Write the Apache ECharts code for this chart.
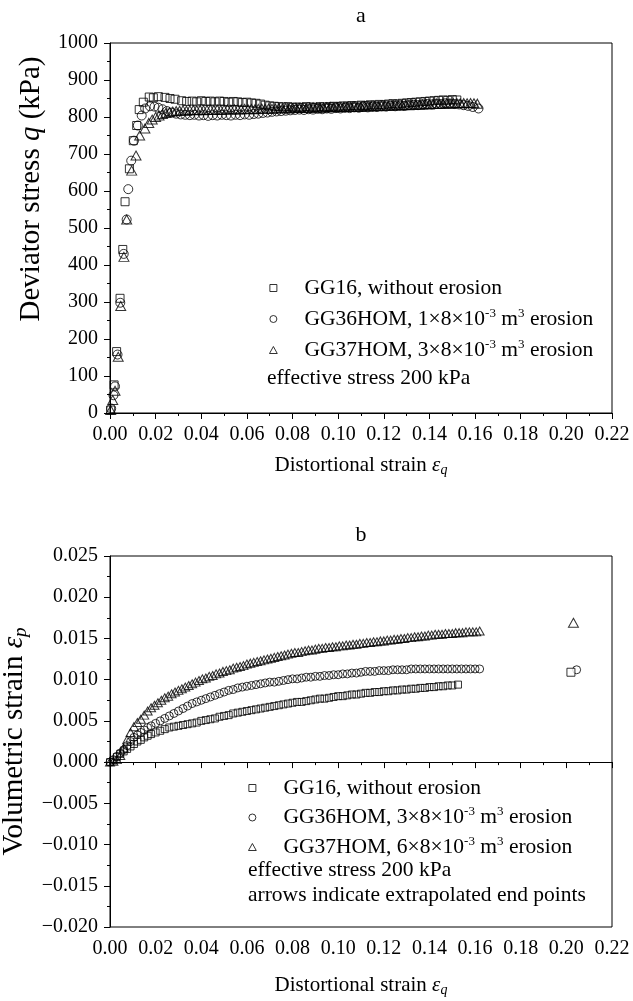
<!DOCTYPE html>
<html>
<head>
<meta charset="utf-8">
<script src="https://cdn.jsdelivr.net/npm/echarts@6/dist/echarts.min.js"></script>
<style>
  html, body { margin: 0; padding: 0; background: #fff; }
  #main { width: 633px; height: 1001px; }
</style>
</head>
<body>
<div id="main"></div>
<script>
// ---- data ----
// panel a: [distortional strain, deviator stress q (kPa)]
const qGG16 = [[0.0003,8],[0.0018,76],[0.0029,166],[0.0044,310],[0.0056,442],[0.0066,571],[0.0085,660],[0.0102,736],[0.0117,777],[0.0128,820],[0.0146,840],[0.0172,854],[0.019,852],[0.0212,855],[0.0241,853],[0.0263,850],[0.0285,848],[0.0314,844],[0.0336,842],[0.036,843],[0.038,841],[0.040,844],[0.042,842],[0.044,843],[0.046,841],[0.048,843],[0.050,842],[0.052,840],[0.054,842],[0.056,841],[0.058,839],[0.060,840],[0.062,838],[0.064,837],[0.066,835],[0.068,832],[0.070,830],[0.072,829],[0.074,828],[0.076,827],[0.078,828],[0.080,826],[0.082,827],[0.084,826],[0.086,828],[0.088,827],[0.090,826],[0.092,828],[0.094,827],[0.096,828],[0.098,829],[0.100,828],[0.102,830],[0.104,829],[0.106,831],[0.108,830],[0.110,832],[0.112,831],[0.114,833],[0.116,832],[0.118,834],[0.120,833],[0.122,835],[0.124,836],[0.126,835],[0.128,837],[0.130,838],[0.132,839],[0.134,840],[0.136,841],[0.138,842],[0.140,843],[0.142,844],[0.144,845],[0.146,846],[0.148,845],[0.150,847],[0.152,846]];
const qGG36 = [[0.0005,12],[0.0015,48],[0.0022,72],[0.0033,158],[0.0045,298],[0.0060,430],[0.0073,523],[0.0080,605],[0.0093,682],[0.0105,736],[0.0122,777],[0.0139,804],[0.0154,823],[0.0175,829],[0.0195,828],[0.0212,825],[0.0230,821],[0.0250,816],[0.0270,812],[0.0290,809],[0.031,807],[0.033,806],[0.035,805],[0.037,806],[0.039,804],[0.041,805],[0.043,803],[0.045,805],[0.047,804],[0.049,806],[0.051,805],[0.053,804],[0.055,806],[0.057,805],[0.059,807],[0.061,806],[0.063,808],[0.065,809],[0.067,811],[0.069,812],[0.071,814],[0.073,815],[0.075,816],[0.077,817],[0.079,818],[0.081,819],[0.083,820],[0.085,819],[0.087,821],[0.089,820],[0.091,822],[0.093,821],[0.095,823],[0.097,822],[0.099,824],[0.101,823],[0.103,825],[0.105,824],[0.107,826],[0.109,825],[0.111,827],[0.113,826],[0.115,828],[0.117,827],[0.119,829],[0.121,828],[0.123,830],[0.125,829],[0.127,831],[0.129,830],[0.131,832],[0.133,833],[0.135,832],[0.137,834],[0.139,835],[0.141,834],[0.143,836],[0.145,835],[0.147,837],[0.149,836],[0.151,835],[0.153,834],[0.155,832],[0.157,830],[0.159,827],[0.1615,823]];
const qGG37 = [[0.0003,8],[0.0012,35],[0.0022,60],[0.0036,152],[0.0047,289],[0.0061,422],[0.0073,523],[0.0095,655],[0.0114,696],[0.0130,750],[0.0153,769],[0.017,784],[0.0185,793],[0.020,800],[0.0215,804],[0.023,808],[0.0245,811],[0.026,813],[0.0275,815],[0.029,816],[0.0305,817],[0.032,818],[0.0335,817],[0.035,818],[0.0365,819],[0.038,818],[0.0395,819],[0.041,818],[0.0425,819],[0.044,820],[0.0455,819],[0.047,820],[0.0485,819],[0.050,820],[0.0515,821],[0.053,820],[0.0545,821],[0.056,820],[0.0575,821],[0.059,822],[0.0605,821],[0.062,822],[0.0635,821],[0.065,822],[0.0665,823],[0.068,822],[0.0695,823],[0.071,822],[0.0725,823],[0.074,824],[0.0755,823],[0.077,824],[0.0785,823],[0.080,824],[0.0815,825],[0.083,824],[0.0845,825],[0.086,824],[0.0875,825],[0.089,826],[0.0905,825],[0.092,826],[0.0935,825],[0.095,826],[0.0965,827],[0.098,826],[0.0995,827],[0.101,826],[0.1025,827],[0.104,828],[0.1055,827],[0.107,828],[0.1085,827],[0.110,828],[0.1115,829],[0.113,828],[0.1145,829],[0.116,830],[0.1175,829],[0.119,830],[0.1205,831],[0.122,830],[0.1235,831],[0.125,832],[0.1265,831],[0.128,832],[0.1295,833],[0.131,832],[0.1325,833],[0.134,834],[0.1355,833],[0.137,834],[0.1385,835],[0.140,834],[0.1415,835],[0.143,836],[0.1445,835],[0.146,836],[0.1475,837],[0.149,836],[0.1505,837],[0.152,838],[0.1535,837],[0.155,838],[0.1565,837],[0.158,838],[0.1595,837],[0.161,836]];

// panel b: [distortional strain, volumetric strain]
const epGG16 = [[0.000,0.0000],[0.0015,0.0002],[0.003,0.0006],[0.0045,0.0010],[0.006,0.0013],[0.0075,0.0016],[0.009,0.0019],[0.0105,0.0022],[0.012,0.0025],[0.0135,0.0027],[0.015,0.0030],[0.0165,0.0032],[0.018,0.0034],[0.020,0.0036],[0.022,0.0038],[0.024,0.0040],[0.026,0.0042],[0.028,0.0043],[0.030,0.0044],[0.032,0.0045],[0.034,0.0046],[0.036,0.0047],[0.038,0.0048],[0.040,0.0050],[0.042,0.0051],[0.044,0.0052],[0.046,0.0053],[0.048,0.0055],[0.050,0.0056],[0.052,0.0057],[0.054,0.0059],[0.056,0.0060],[0.058,0.0061],[0.060,0.0062],[0.062,0.0063],[0.064,0.0064],[0.066,0.0065],[0.068,0.0066],[0.070,0.0067],[0.072,0.0068],[0.074,0.0069],[0.076,0.0070],[0.078,0.0071],[0.080,0.0072],[0.082,0.0073],[0.084,0.0073],[0.086,0.0074],[0.088,0.0075],[0.090,0.0076],[0.092,0.0077],[0.094,0.0077],[0.096,0.0078],[0.098,0.0079],[0.100,0.0080],[0.102,0.0080],[0.104,0.0081],[0.106,0.0082],[0.108,0.0082],[0.110,0.0083],[0.112,0.0084],[0.114,0.0084],[0.116,0.0085],[0.118,0.0085],[0.120,0.0086],[0.122,0.0086],[0.124,0.0087],[0.126,0.0087],[0.128,0.0088],[0.130,0.0088],[0.132,0.0089],[0.134,0.0089],[0.136,0.0090],[0.138,0.0090],[0.140,0.0091],[0.142,0.0091],[0.144,0.0092],[0.146,0.0092],[0.148,0.0093],[0.150,0.0093],[0.1525,0.0094]];
const epGG36 = [[0.000,0.0000],[0.0015,0.0003],[0.003,0.0007],[0.0045,0.0011],[0.006,0.0015],[0.0075,0.0020],[0.009,0.0025],[0.0105,0.0030],[0.012,0.0033],[0.0135,0.0036],[0.015,0.0039],[0.0165,0.0042],[0.018,0.0044],[0.020,0.0047],[0.022,0.0050],[0.024,0.0053],[0.026,0.0056],[0.028,0.0059],[0.030,0.0062],[0.032,0.0065],[0.034,0.0068],[0.036,0.0071],[0.038,0.0073],[0.040,0.0075],[0.042,0.0077],[0.044,0.0079],[0.046,0.0081],[0.048,0.0083],[0.050,0.0085],[0.052,0.0087],[0.054,0.0088],[0.056,0.0090],[0.058,0.0091],[0.060,0.0092],[0.062,0.0093],[0.064,0.0094],[0.066,0.0095],[0.068,0.0096],[0.070,0.0097],[0.072,0.0097],[0.074,0.0098],[0.076,0.0099],[0.078,0.0100],[0.080,0.0101],[0.082,0.0101],[0.084,0.0102],[0.086,0.0103],[0.088,0.0103],[0.090,0.0104],[0.092,0.0104],[0.094,0.0105],[0.096,0.0105],[0.098,0.0106],[0.100,0.0106],[0.102,0.0107],[0.104,0.0107],[0.106,0.0108],[0.108,0.0108],[0.110,0.0109],[0.112,0.0110],[0.114,0.0110],[0.116,0.0110],[0.118,0.0111],[0.120,0.0111],[0.122,0.0111],[0.124,0.0112],[0.126,0.0112],[0.128,0.0112],[0.130,0.0112],[0.132,0.0113],[0.134,0.0113],[0.136,0.0113],[0.138,0.0113],[0.140,0.0113],[0.142,0.0113],[0.144,0.0113],[0.146,0.0113],[0.148,0.0113],[0.150,0.0113],[0.152,0.0113],[0.154,0.0113],[0.156,0.0113],[0.158,0.0113],[0.160,0.0113],[0.162,0.0113]];
const epGG37 = [[0.000,0.0000],[0.0015,0.0001],[0.003,0.0003],[0.0045,0.0008],[0.006,0.0017],[0.0075,0.0027],[0.009,0.0036],[0.0105,0.0043],[0.012,0.0048],[0.0135,0.0052],[0.015,0.0057],[0.0165,0.0062],[0.018,0.0066],[0.0195,0.0069],[0.021,0.0072],[0.0225,0.0075],[0.024,0.0078],[0.0255,0.0080],[0.027,0.0083],[0.0285,0.0085],[0.030,0.0087],[0.0315,0.0089],[0.033,0.0091],[0.0345,0.0093],[0.036,0.0095],[0.0375,0.0097],[0.039,0.0099],[0.0405,0.0101],[0.042,0.0102],[0.0435,0.0104],[0.045,0.0105],[0.0465,0.0107],[0.048,0.0108],[0.0495,0.0110],[0.051,0.0111],[0.0525,0.0112],[0.054,0.0114],[0.0555,0.0115],[0.057,0.0116],[0.0585,0.0117],[0.060,0.0119],[0.0615,0.0120],[0.063,0.0121],[0.0645,0.0122],[0.066,0.0123],[0.0675,0.0124],[0.069,0.0125],[0.0705,0.0126],[0.072,0.0127],[0.0735,0.0128],[0.075,0.0129],[0.0765,0.0130],[0.078,0.0131],[0.0795,0.0132],[0.081,0.0133],[0.0825,0.0133],[0.084,0.0134],[0.0855,0.0135],[0.087,0.0136],[0.0885,0.0136],[0.090,0.0137],[0.0915,0.0138],[0.093,0.0138],[0.0945,0.0139],[0.096,0.0139],[0.0975,0.0140],[0.099,0.0140],[0.1005,0.0141],[0.102,0.0141],[0.1035,0.0142],[0.105,0.0142],[0.1065,0.0143],[0.108,0.0143],[0.1095,0.0144],[0.111,0.0144],[0.1125,0.0145],[0.114,0.0145],[0.1155,0.0146],[0.117,0.0146],[0.1185,0.0147],[0.120,0.0147],[0.1215,0.0148],[0.123,0.0148],[0.1245,0.0149],[0.126,0.0149],[0.1275,0.0150],[0.129,0.0150],[0.1305,0.0151],[0.132,0.0151],[0.1335,0.0152],[0.135,0.0152],[0.1365,0.0153],[0.138,0.0153],[0.1395,0.0154],[0.141,0.0154],[0.1425,0.0155],[0.144,0.0155],[0.1455,0.0155],[0.147,0.0156],[0.1485,0.0156],[0.150,0.0156],[0.1515,0.0157],[0.153,0.0157],[0.1545,0.0157],[0.156,0.0158],[0.1575,0.0158],[0.159,0.0158],[0.1605,0.0158],[0.162,0.0159]];

// extrapolated end points (panel b)
const endGG16 = [[0.2020, 0.0109]];
const endGG36 = [[0.2045, 0.0112]];
const endGG37 = [[0.2031, 0.0169]];

// legend names
const namesA = ['GG16, without erosion', 'GG36HOM, 1×8×10-3 m3 erosion', 'GG37HOM, 3×8×10-3 m3 erosion'];
const namesB = ['GG16, without erosion', 'GG36HOM, 3×8×10-3 m3 erosion', 'GG37HOM, 6×8×10-3 m3 erosion'];
const legendRich = {
  'GG16, without erosion': '{t|GG16, without erosion}',
  'GG36HOM, 1×8×10-3 m3 erosion': '{t|GG36HOM, 1×8×10}{s|-3}{t| m}{s|3}{t| erosion}',
  'GG37HOM, 3×8×10-3 m3 erosion': '{t|GG37HOM, 3×8×10}{s|-3}{t| m}{s|3}{t| erosion}',
  'GG36HOM, 3×8×10-3 m3 erosion': '{t|GG36HOM, 3×8×10}{s|-3}{t| m}{s|3}{t| erosion}',
  'GG37HOM, 6×8×10-3 m3 erosion': '{t|GG37HOM, 6×8×10}{s|-3}{t| m}{s|3}{t| erosion}'
};

const F = '"Liberation Serif", "Times New Roman", serif';
const RECT = 'path://M0,0L10,0L10,10L0,10Z';
const CIRC = 'path://M5,0A5,5 0 1,1 5,10A5,5 0 1,1 5,0Z';
const TRI = 'path://M5,0L10,9L0,9Z';

const chart = echarts.init(document.getElementById('main'), null, { renderer: 'canvas' });

const hollow = { color: 'rgba(0,0,0,0)', borderColor: '#000', borderWidth: 1 };

function xAxis(gridIndex, gap) {
  return {
    type: 'value', gridIndex: gridIndex, min: 0, max: 0.22, interval: 0.02,
    name: 'Distortional strain {e|ε}{s|q}', nameLocation: 'middle', nameGap: gap,
    nameTextStyle: {
      fontFamily: F, fontSize: 21, color: '#000', lineHeight: 24,
      rich: {
        e: { fontFamily: F, fontSize: 21, fontStyle: 'italic', lineHeight: 24 },
        s: { fontFamily: F, fontSize: 14, fontStyle: 'italic', lineHeight: 10, verticalAlign: 'bottom' }
      }
    },
    axisLine: { lineStyle: { color: '#000', width: 1 } },
    axisTick: { length: 6, lineStyle: { color: '#000' } },
    minorTick: { show: true, splitNumber: 2, length: 3, lineStyle: { color: '#000' } },
    splitLine: { show: false },
    axisLabel: { fontFamily: F, fontSize: 20, color: '#000', margin: 12, formatter: v => v.toFixed(2) }
  };
}

function legend(names, left, top, gap) {
  const icons = [RECT, CIRC, TRI];
  return {
    orient: 'vertical', left: left, top: top, padding: 0,
    itemWidth: 52, itemHeight: 7, itemGap: gap,
    itemStyle: hollow,
    data: names.map((n, i) => ({ name: n, icon: icons[i] })),
    formatter: n => legendRich[n],
    textStyle: {
      fontFamily: F, fontSize: 21.5, color: '#000', lineHeight: 24,
      rich: {
        t: { fontFamily: F, fontSize: 21.5, color: '#000', lineHeight: 24 },
        s: { fontFamily: F, fontSize: 13, color: '#000', lineHeight: 16, verticalAlign: 'top' }
      }
    }
  };
}

function scatter(name, data, gi, symbol, size, extra) {
  return Object.assign({
    type: 'scatter', name: name, data: data, xAxisIndex: gi, yAxisIndex: gi,
    symbol: symbol, symbolSize: size, itemStyle: hollow, silent: true,
    emphasis: { disabled: true }
  }, extra || {});
}

const option = {
  animation: false,
  backgroundColor: '#fff',
  grid: [
    { left: 110, right: 21, top: 43, height: 370, show: true, borderColor: '#000', borderWidth: 1, outerBoundsMode: 'none', containLabel: false },
    { left: 110, right: 21, top: 556, height: 371, show: true, borderColor: '#000', borderWidth: 1, outerBoundsMode: 'none', containLabel: false }
  ],
  xAxis: [xAxis(0, 40), xAxis(1, 46)],
  yAxis: [
    {
      type: 'value', gridIndex: 0, min: 0, max: 1000, interval: 100,
      name: 'Deviator stress {q|q} (kPa)', nameLocation: 'middle', nameGap: 59,
      nameTextStyle: {
        fontFamily: F, fontSize: 29, color: '#000', lineHeight: 32, padding: [0, 0, 0, 78],
        rich: { q: { fontFamily: F, fontSize: 29, fontStyle: 'italic', lineHeight: 32 } }
      },
      axisLine: { show: true, lineStyle: { color: '#000', width: 1 } },
      axisTick: { show: true, length: 6, lineStyle: { color: '#000' } },
      minorTick: { show: true, splitNumber: 2, length: 3, lineStyle: { color: '#000' } },
      splitLine: { show: false },
      axisLabel: { fontFamily: F, fontSize: 20, color: '#000', margin: 12, formatter: v => String(v) }
    },
    {
      type: 'value', gridIndex: 1, min: -0.02, max: 0.025, interval: 0.005,
      name: 'Volumetric strain {e|ε}{s|p}', nameLocation: 'middle', nameGap: 72,
      nameTextStyle: {
        fontFamily: F, fontSize: 29, color: '#000', lineHeight: 32,
        rich: {
          e: { fontFamily: F, fontSize: 29, fontStyle: 'italic', lineHeight: 32 },
          s: { fontFamily: F, fontSize: 19, fontStyle: 'italic', lineHeight: 12, verticalAlign: 'bottom' }
        }
      },
      axisLine: { show: true, lineStyle: { color: '#000', width: 1 } },
      axisTick: { show: true, length: 6, lineStyle: { color: '#000' } },
      minorTick: { show: true, splitNumber: 2, length: 3, lineStyle: { color: '#000' } },
      splitLine: { show: false },
      axisLabel: {
        fontFamily: F, fontSize: 20, color: '#000', margin: 12,
        formatter: v => (v < -1e-9 ? '\u2212' + Math.abs(v).toFixed(3) : Math.abs(v).toFixed(3))
      }
    }
  ],
  legend: [legend(namesA, 269, 276, 7), legend(namesB, 248, 776, 5.5)],
  graphic: [
    { type: 'text', x: 361, y: 16, style: { text: 'a', fontFamily: F, fontSize: 22, fill: '#000', align: 'center', verticalAlign: 'middle' } },
    { type: 'text', x: 361, y: 535, style: { text: 'b', fontFamily: F, fontSize: 22, fill: '#000', align: 'center', verticalAlign: 'middle' } },
    { type: 'text', x: 267, y: 378, style: { text: 'effective stress 200 kPa', fontFamily: F, fontSize: 21.5, fill: '#000', verticalAlign: 'middle' } },
    { type: 'text', x: 248, y: 870, style: { text: 'effective stress 200 kPa', fontFamily: F, fontSize: 21.5, fill: '#000', verticalAlign: 'middle' } },
    { type: 'text', x: 248, y: 895, style: { text: 'arrows indicate extrapolated end points', fontFamily: F, fontSize: 21.5, fill: '#000', verticalAlign: 'middle' } }
  ],
  series: [
    scatter(namesA[0], qGG16, 0, 'rect', 8),
    scatter(namesA[1], qGG36, 0, 'circle', 9),
    scatter(namesA[2], qGG37, 0, 'triangle', [10, 9]),
    scatter(namesB[0], epGG16, 1, 'rect', 7),
    scatter(namesB[1], epGG36, 1, 'circle', 8),
    scatter(namesB[2], epGG37, 1, 'triangle', [9, 8]),
    scatter('GG36 end', endGG36, 1, 'circle', 8),
    scatter('GG16 end', endGG16, 1, 'rect', 8, { itemStyle: { color: '#fff', borderColor: '#000', borderWidth: 1 } }),
    scatter('GG37 end', endGG37, 1, 'triangle', [10, 9])
  ]
};

chart.setOption(option);
</script>
</body>
</html>
